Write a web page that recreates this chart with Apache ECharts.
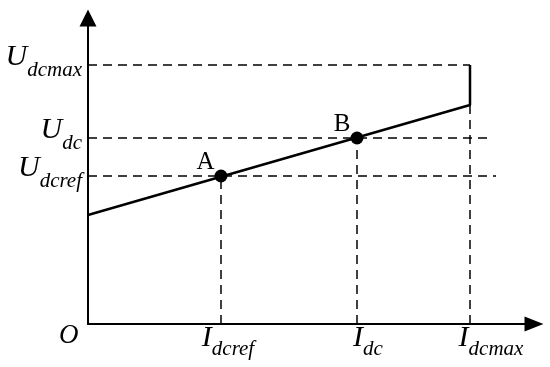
<!DOCTYPE html>
<html>
<head>
<meta charset="utf-8">
<script src="https://cdn.jsdelivr.net/npm/echarts@6/dist/echarts.min.js"></script>
<style>
html, body { margin: 0; padding: 0; background: #fff; }
#main { width: 550px; height: 367px; }
</style>
</head>
<body>
<div id="main"></div>
<script>
// 横轴、纵轴上标出的几个量（单位随意，按图中比例读取）
var xNames = ['dcref', 'dc', 'dcmax'];
var xValues = [133, 269, 382];
var yNames = ['dcref', 'dc', 'dcmax'];
var yValues = [148, 186, 259];
// 下垂特性直线：起点 (0, 109)，终点在 Idcmax 处
var lineX = [0, 382];
var lineY = [109, 219];
// 工作点 A、B
var pointNames = ['A', 'B'];
var pointX = [133, 269];
var pointY = [148, 186];
// 水平虚线右端
var hDashEnd = [408, 405, 382];

var myChart = echarts.init(document.getElementById('main'));

var serif = 'Liberation Serif';
var dash = [9, 6];

function xLabel(v) {
	var i = xValues.indexOf(v);
	return i < 0 ? '' : '{i' + i + '|I}{s|' + xNames[i] + '}';
}
function yLabel(v) {
	var i = yValues.indexOf(v);
	return i < 0 ? '' : '{u|U}{s|' + yNames[i] + '}';
}

var series = [];
// 水平虚线
for (var i = 0; i < yValues.length; i++) {
	series.push({
		type: 'line', symbol: 'none', silent: true,
		lineStyle: { color: '#000', width: 1.5, type: dash },
		data: [[0, yValues[i]], [hDashEnd[i], yValues[i]]]
	});
}
// 竖直虚线
for (var j = 0; j < xValues.length; j++) {
	var yTop = j < 2 ? pointY[j] : lineY[1];
	series.push({
		type: 'line', symbol: 'none', silent: true,
		lineStyle: { color: '#000', width: 1.5, type: dash },
		data: [[xValues[j], 0], [xValues[j], yTop]]
	});
}
// 特性直线和 Idcmax 处竖直实线
series.push({
	type: 'line', symbol: 'none', silent: true,
	lineStyle: { color: '#000', width: 2.5 },
	data: [[lineX[0], lineY[0]], [lineX[1], lineY[1]], [lineX[1], yValues[2]]]
});
// 工作点
series.push({
	type: 'scatter', symbolSize: 13, silent: true,
	itemStyle: { color: '#000', opacity: 1 },
	label: {
		show: true, position: 'left', offset: [5, -14],
		formatter: function (p) { return pointNames[p.dataIndex]; },
		fontFamily: serif, fontSize: 25, color: '#000'
	},
	data: pointX.map(function (x, k) { return [x, pointY[k]]; })
});

var iStyle = function (pl) {
	return { fontFamily: serif, fontStyle: 'italic', fontSize: 30, lineHeight: 29, padding: [0, 0, 7, pl] };
};

option = {
	animation: false,
	grid: { left: 88, right: 16, top: 18, bottom: 43 },
	xAxis: {
		type: 'value', min: 0, max: 446,
		splitLine: { show: false },
		axisTick: { show: false },
		axisLine: {
			lineStyle: { color: '#000', width: 2 },
			symbol: ['none', 'triangle'], symbolSize: [15, 19]
		},
		axisLabel: {
			customValues: xValues, formatter: xLabel, margin: 3, color: '#000',
			hideOverlap: false,
			rich: {
				i0: iStyle(14),
				i1: iStyle(22),
				i2: iStyle(42),
				s: { fontFamily: serif, fontStyle: 'italic', fontSize: 21, lineHeight: 20, padding: [16, 0, 0, 0] }
			}
		}
	},
	yAxis: {
		type: 'value', min: 0, max: 306,
		splitLine: { show: false },
		axisTick: { show: false },
		axisLine: {
			lineStyle: { color: '#000', width: 2 },
			symbol: ['none', 'triangle'], symbolSize: [17, 17]
		},
		axisLabel: {
			customValues: yValues, formatter: yLabel, margin: 6, color: '#000',
			hideOverlap: false,
			padding: [0, 0, 7, 0],
			rich: {
				u: { fontFamily: serif, fontStyle: 'italic', fontSize: 30, lineHeight: 29, padding: [0, 0, 8, 0] },
				s: { fontFamily: serif, fontStyle: 'italic', fontSize: 21, lineHeight: 20, padding: [17, 0, 0, 0] }
			}
		}
	},
	graphic: [{
		type: 'text', left: 59, top: 322,
		style: { text: 'O', font: 'italic 27px "Liberation Serif"', fill: '#000' }
	}],
	series: series
};
myChart.setOption(option);
</script>
</body>
</html>
